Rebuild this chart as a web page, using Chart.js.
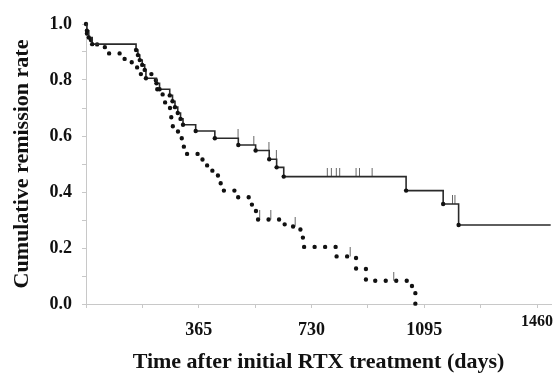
<!DOCTYPE html>
<html>
<head>
<meta charset="utf-8">
<script src="https://cdn.jsdelivr.net/npm/chart.js@4/dist/chart.umd.min.js"></script>
<style>
  html, body { margin: 0; padding: 0; background: #fff; }
</style>
</head>
<body>
<canvas id="chart" width="556" height="373"></canvas>
<script>
// Solid group: event times (days) and cumulative remission rate
const solidDays  = [0, 3, 9, 20, 162, 168, 174, 182, 190, 194, 228, 238, 271, 280, 288, 297, 306, 314, 355, 417, 493, 549, 593, 617, 640, 1036, 1156, 1206, 1504];
const solidRates = [1.0, 0.976, 0.952, 0.928, 0.907, 0.889, 0.871, 0.854, 0.836, 0.806, 0.788, 0.767, 0.745, 0.724, 0.703, 0.682, 0.661, 0.64, 0.618, 0.592, 0.568, 0.548, 0.517, 0.488, 0.455, 0.405, 0.357, 0.282, 0.282];

// Solid group: censored cases
const solidCensorDays  = [492, 543, 592, 616, 781, 794, 810, 821, 874, 885, 926, 1186, 1194];
const solidCensorRates = [0.592, 0.568, 0.548, 0.517, 0.455, 0.455, 0.455, 0.455, 0.455, 0.455, 0.455, 0.357, 0.357];

// Dotted group: event times (days) and cumulative remission rate
const dottedDays  = [0, 3, 16, 36, 61, 125, 148, 174, 226, 230, 248, 252, 256, 276, 278, 281, 309, 314, 327, 377, 392, 409, 427, 436, 481, 527, 537, 551, 643, 694, 702, 810, 874, 906, 1055, 1066];
const dottedRates = [1.0, 0.96, 0.94, 0.92, 0.895, 0.868, 0.845, 0.821, 0.795, 0.767, 0.744, 0.722, 0.70, 0.663, 0.639, 0.616, 0.592, 0.562, 0.536, 0.508, 0.485, 0.461, 0.431, 0.405, 0.381, 0.356, 0.332, 0.302, 0.277, 0.24, 0.204, 0.17, 0.127, 0.083, 0.042, 0.0];

// Dotted group: censored cases
const dottedCensorDays  = [562, 598, 677, 855, 996];
const dottedCensorRates = [0.302, 0.302, 0.277, 0.17, 0.083];

// Axis ticks
const xTickValues = [0, 182.5, 365, 547.5, 730, 912.5, 1095, 1277.5, 1460];
const xTickLabels = ['', '', '365', '', '730', '', '1095', '', '1460'];
const yTickValues = [0, 0.1, 0.2, 0.3, 0.4, 0.5, 0.6, 0.7, 0.8, 0.9, 1.0];
const yTickLabels = ['0.0', '', '0.2', '', '0.4', '', '0.6', '', '0.8', '', '1.0'];

const SERIF = "'Liberation Serif', 'Times New Roman', serif";
const RAISED_LABEL = 8; // the 1460 label sits higher and smaller in the original

// Censor mark: short vertical tick standing on the curve
const censorMark = document.createElement('canvas');
censorMark.width = 3;
censorMark.height = 18;
(() => {
    const c = censorMark.getContext('2d');
    c.strokeStyle = '#666';
    c.lineWidth = 1;
    c.beginPath();
    c.moveTo(1.5, 0);
    c.lineTo(1.5, 9);
    c.stroke();
})();

const toPoints = (xs, ys) => xs.map((x, i) => ({ x, y: ys[i] }));

// Draws the odd raised "1460" label
const raisedLabelPlugin = {
    id: 'raisedLabel',
    afterDraw(chart) {
        const scale = chart.scales.x;
        const ctx = chart.ctx;
        ctx.save();
        ctx.font = `bold 16px ${SERIF}`;
        ctx.fillStyle = '#111';
        ctx.textAlign = 'center';
        ctx.textBaseline = 'middle';
        ctx.fillText(xTickLabels[RAISED_LABEL], scale.getPixelForValue(xTickValues[RAISED_LABEL]), 322);
        ctx.restore();
    }
};

new Chart(document.getElementById('chart'), {
    type: 'line',
    data: {
        datasets: [
            {
                label: 'Solid',
                data: toPoints(solidDays, solidRates),
                stepped: 'before',
                borderColor: '#2a2a2a',
                borderWidth: 1.6,
                pointRadius: ctx => (ctx.dataIndex === 0 || ctx.dataIndex === solidDays.length - 1) ? 0 : 2.2,
                pointBackgroundColor: '#111',
                pointBorderWidth: 0,
                clip: false
            },
            {
                label: 'Solid censored',
                data: toPoints(solidCensorDays, solidCensorRates),
                showLine: false,
                pointStyle: censorMark,
                clip: false
            },
            {
                label: 'Dotted',
                data: toPoints(dottedDays, dottedRates),
                stepped: 'before',
                borderColor: '#111',
                borderWidth: 4.4,
                borderDash: [0, 10.5],
                borderCapStyle: 'round',
                pointRadius: 0,
                clip: false
            },
            {
                label: 'Dotted censored',
                data: toPoints(dottedCensorDays, dottedCensorRates),
                showLine: false,
                pointStyle: censorMark,
                clip: false
            }
        ]
    },
    options: {
        responsive: false,
        animation: false,
        devicePixelRatio: 1,
        layout: { padding: { top: 24, right: 4, left: 0, bottom: 0 } },
        plugins: { legend: { display: false }, tooltip: { enabled: false } },
        scales: {
            x: {
                type: 'linear',
                min: 0,
                max: 1505,
                afterBuildTicks: s => { s.ticks = xTickValues.map(v => ({ value: v })); },
                afterFit: s => { s.height = 69; },
                ticks: {
                    autoSkip: false,
                    maxRotation: 0,
                    padding: 12,
                    color: '#111',
                    font: { family: SERIF, weight: 'bold', size: 18 },
                    callback: (v, i) => i === RAISED_LABEL ? '' : xTickLabels[i]
                },
                grid: { drawOnChartArea: false, drawTicks: true, tickLength: 4, color: '#c8c8c8' },
                border: { color: '#c8c8c8' },
                title: {
                    display: true,
                    text: 'Time after initial RTX treatment (days)',
                    color: '#111',
                    font: { family: SERIF, weight: 'bold', size: 22, lineHeight: 1 },
                    padding: { top: 0, bottom: 0 }
                }
            },
            y: {
                min: 0,
                max: 1,
                afterBuildTicks: s => { s.ticks = yTickValues.map(v => ({ value: v })); },
                afterFit: s => { s.width = 86; },
                ticks: {
                    padding: 10,
                    color: '#111',
                    font: { family: SERIF, weight: 'bold', size: 18 },
                    callback: (v, i) => yTickLabels[i]
                },
                grid: { drawOnChartArea: false, drawTicks: true, tickLength: 4, color: '#c8c8c8' },
                border: { color: '#c8c8c8' },
                title: {
                    display: true,
                    text: 'Cumulative remission rate',
                    color: '#111',
                    font: { family: SERIF, weight: 'bold', size: 22, lineHeight: 1 },
                    padding: { top: 11, bottom: 0 }
                }
            }
        }
    },
    plugins: [raisedLabelPlugin]
});
</script>
</body>
</html>
